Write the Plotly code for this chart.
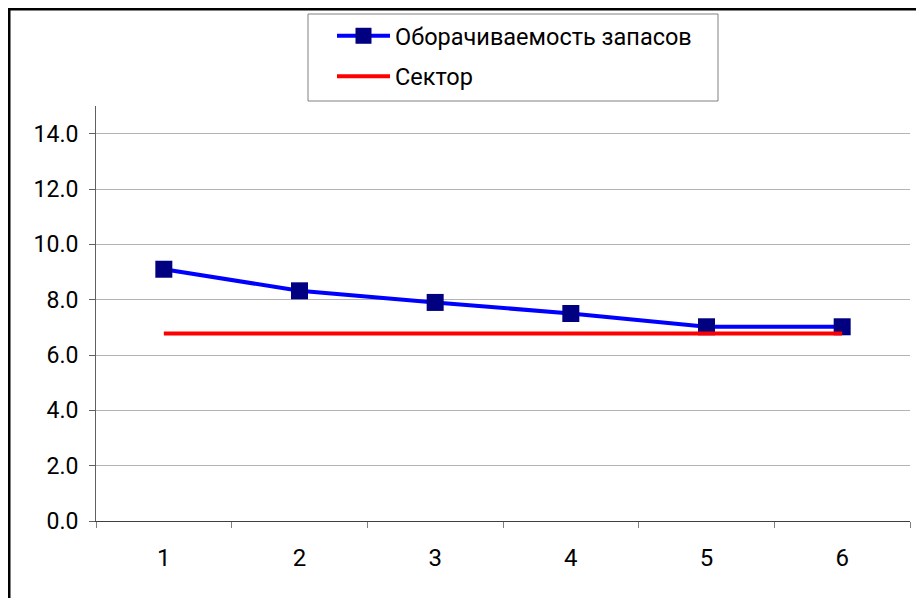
import plotly.graph_objects as go

categories = ["1", "2", "3", "4", "5", "6"]
turnover = [9.1, 8.32, 7.9, 7.5, 7.02, 7.02]
sector = [6.78, 6.78, 6.78, 6.78, 6.78, 6.78]
series_names = ["Оборачиваемость запасов", "Сектор"]
y_ticks = [0, 2, 4, 6, 8, 10, 12, 14]

fig = go.Figure()
fig.add_trace(go.Scatter(
    x=categories, y=turnover, name=series_names[0], mode="lines+markers",
    line=dict(color="#0000FF", width=4),
    marker=dict(symbol="square", size=17, color="#000080", line=dict(width=0)),
    legendgroup="a",
))
fig.add_trace(go.Scatter(
    x=categories, y=sector, name=series_names[1], mode="lines",
    line=dict(color="#FF0000", width=4),
    legendgroup="b",
))

# page has an 8px body margin; work in page pixel coordinates
OFF = 8
W, H = 916, 590
L, R, T, B = 96 - OFF, 14, 106 - OFF, 590 - (521 - OFF)
pw, ph = W - L - R, H - T - B

def px_x(p):
    return (p - OFF - L) / pw

def px_y(p):
    return (H - B - (p - OFF)) / ph

fig.update_layout(
    width=W, height=H,
    margin=dict(l=L, r=R, t=T, b=B, autoexpand=False),
    paper_bgcolor="white", plot_bgcolor="white",
    font=dict(family="Roboto", size=24, color="black"),
    showlegend=True,
    legend=dict(
        x=px_x(332), y=px_y(14), xanchor="left", yanchor="top",
        bgcolor="rgba(0,0,0,0)", borderwidth=0,
        font=dict(family="Roboto", size=23.5, color="black"),
        tracegroupgap=7, itemwidth=53,
    ),
    xaxis=dict(
        type="category", showgrid=False, showline=True, linecolor="#404040", linewidth=1,
        ticks="outside", tickson="boundaries", ticklen=6, tickcolor="#808080",
        tickfont=dict(size=24), ticklabelstandoff=15,
        range=[-0.5, 5.5], automargin=False,
    ),
    yaxis=dict(
        range=[0, 15], tickvals=y_ticks, tickformat=".1f",
        showgrid=True, gridcolor="#b4b4b4", gridwidth=1,
        showline=True, linecolor="#606060", linewidth=1,
        ticks="outside", ticklen=6, tickcolor="#606060",
        zeroline=False, tickfont=dict(size=23), ticklabelstandoff=6,
        automargin=False,
    ),
    shapes=[
        dict(
            type="rect", xref="paper", yref="paper",
            x0=px_x(9), x1=px_x(950), y0=px_y(630), y1=px_y(9),
            line=dict(color="black", width=3), fillcolor="rgba(0,0,0,0)", layer="above",
        ),
        dict(
            type="rect", xref="paper", yref="paper",
            x0=px_x(308), x1=px_x(718), y0=px_y(101), y1=px_y(14),
            line=dict(color="#808080", width=1), fillcolor="white", layer="above",
        ),
    ],
)

fig.write_html("out.html")
